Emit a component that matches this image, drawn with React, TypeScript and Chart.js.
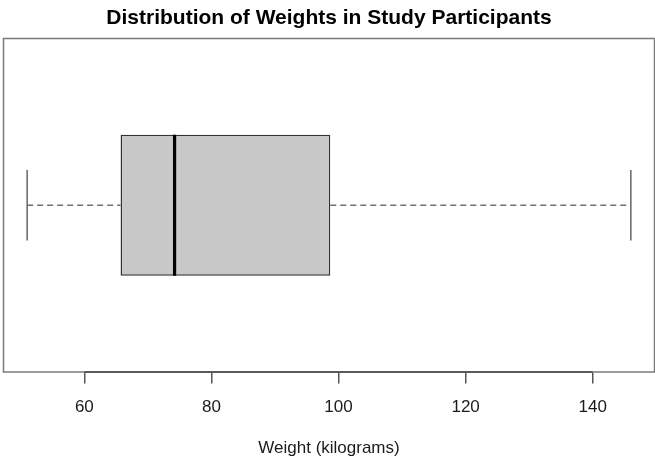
import React, { useEffect, useRef } from "react";
import { Chart, registerables } from "chart.js";

Chart.register(...registerables);

const CATEGORIES = ["Weight"];
const MIN_VALUES = [51.0];
const Q1_VALUES = [65.7];
const MEDIAN_VALUES = [74.2];
const Q3_VALUES = [98.7];
const MAX_VALUES = [146.0];
const X_TICKS = [60, 80, 100, 120, 140];
const X_MIN = 47.2;
const X_MAX = 149.8;

const FONT = "'Liberation Sans', Arial, Helvetica, sans-serif";

const boxPlugin = {
  id: "boxWhiskers",
  afterDatasetsDraw(chart: any) {
    const ctx = chart.ctx;
    const xs = chart.scales.x;
    const meta = chart.getDatasetMeta(0);
    meta.data.forEach((bar: any, i: number) => {
      const y = bar.y;
      const h = bar.height;
      const xMin = xs.getPixelForValue(MIN_VALUES[i]);
      const xQ1 = xs.getPixelForValue(Q1_VALUES[i]);
      const xMed = xs.getPixelForValue(MEDIAN_VALUES[i]);
      const xQ3 = xs.getPixelForValue(Q3_VALUES[i]);
      const xMax = xs.getPixelForValue(MAX_VALUES[i]);
      ctx.save();
      // dashed whiskers
      ctx.strokeStyle = "#707070";
      ctx.lineWidth = 1.5;
      ctx.setLineDash([6, 4]);
      ctx.beginPath();
      ctx.moveTo(xMin, y);
      ctx.lineTo(xQ1, y);
      ctx.moveTo(xQ3, y);
      ctx.lineTo(xMax, y);
      ctx.stroke();
      // staples
      ctx.setLineDash([]);
      ctx.strokeStyle = "#666666";
      ctx.beginPath();
      ctx.moveTo(xMin, y - h / 4);
      ctx.lineTo(xMin, y + h / 4);
      ctx.moveTo(xMax, y - h / 4);
      ctx.lineTo(xMax, y + h / 4);
      ctx.stroke();
      // median
      ctx.strokeStyle = "#000000";
      ctx.lineWidth = 3.2;
      ctx.beginPath();
      ctx.moveTo(xMed, y - h / 2);
      ctx.lineTo(xMed, y + h / 2);
      ctx.stroke();
      ctx.restore();
    });
  },
  afterDraw(chart: any) {
    const ctx = chart.ctx;
    const { left, right, top, bottom } = chart.chartArea;
    const xs = chart.scales.x;
    ctx.save();
    ctx.strokeStyle = "#7a7a7a";
    ctx.lineWidth = 1.5;
    ctx.strokeRect(left + 0.5, top + 0.5, right - left - 1, bottom - top - 1);
    ctx.strokeStyle = "#444444";
    ctx.beginPath();
    ctx.moveTo(xs.getPixelForValue(X_TICKS[0]), bottom - 0.5);
    ctx.lineTo(xs.getPixelForValue(X_TICKS[X_TICKS.length - 1]), bottom - 0.5);
    ctx.stroke();
    ctx.restore();
  },
};

export default function App() {
  const ref = useRef<HTMLCanvasElement | null>(null);
  useEffect(() => {
    if (!ref.current) return;
    const chart = new Chart(ref.current, {
      type: "bar",
      data: {
        labels: CATEGORIES,
        datasets: [
          {
            data: Q1_VALUES.map((q, i) => [q, Q3_VALUES[i]]) as any,
            backgroundColor: "#C8C8C8",
            borderColor: "#333333",
            borderWidth: 1.5,
            borderSkipped: false,
            categoryPercentage: 1,
            barPercentage: 141 / 334,
          },
        ],
      },
      options: {
        indexAxis: "y",
        animation: false,
        responsive: false,
        devicePixelRatio: 1,
        layout: { padding: { left: 3, right: 0, top: 0, bottom: 0 } },
        plugins: {
          legend: { display: false },
          tooltip: { enabled: false },
          title: {
            display: true,
            text: "Distribution of Weights in Study Participants",
            color: "#000000",
            font: { family: FONT, size: 21, weight: "bold", lineHeight: 1.2 },
            padding: { top: 6, bottom: 6.8 },
          },
        },
        scales: {
          x: {
            type: "linear",
            min: X_MIN,
            max: X_MAX,
            afterBuildTicks: (scale: any) => {
              scale.ticks = X_TICKS.map((v) => ({ value: v }));
            },
            border: { display: false },
            grid: {
              drawOnChartArea: false,
              drawTicks: true,
              tickLength: 11,
              color: "#555555",
              lineWidth: 1.5,
            },
            ticks: {
              color: "#1a1a1a",
              padding: 13.2,
              font: { family: FONT, size: 17, lineHeight: 1.2 },
              maxRotation: 0,
              autoSkip: false,
            },
            title: {
              display: true,
              text: "Weight (kilograms)",
              color: "#1a1a1a",
              font: { family: FONT, size: 17, lineHeight: 1.2 },
              padding: { top: 7.4, bottom: 5.9 },
            },
          },
          y: {
            type: "category",
            display: false,
          },
        },
      },
      plugins: [boxPlugin],
    });
    return () => chart.destroy();
  }, []);
  return (
    <div style={{ position: "fixed", left: 0, top: 0, width: 655, height: 464, background: "#ffffff" }}>
      <canvas ref={ref} width={655} height={464} style={{ display: "block" }} />
    </div>
  );
}
